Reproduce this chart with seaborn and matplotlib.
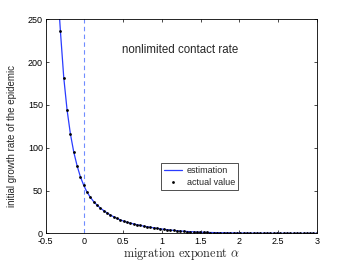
import numpy as np
import pandas as pd
import seaborn as sns
import matplotlib
matplotlib.use('Agg')
import matplotlib.pyplot as plt

# 数据
alpha = [-0.310, -0.267, -0.224, -0.181, -0.138, -0.095, -0.052, -0.009, 0.034, 0.077,
         0.120, 0.163, 0.206, 0.249, 0.292, 0.335, 0.378, 0.421, 0.464, 0.507,
         0.550, 0.593, 0.636, 0.679, 0.722, 0.765, 0.808, 0.851, 0.894, 0.937,
         0.980, 1.023, 1.066, 1.109, 1.152, 1.195, 1.238, 1.281, 1.324, 1.367,
         1.410, 1.453, 1.496, 1.539, 1.582, 1.625, 1.668, 1.711, 1.754, 1.797,
         1.840, 1.883, 1.926, 1.969, 2.012, 2.055, 2.098, 2.141, 2.184, 2.227,
         2.270, 2.313, 2.356, 2.399, 2.442, 2.485, 2.528, 2.571, 2.614, 2.657,
         2.700, 2.743, 2.786, 2.829, 2.872, 2.915, 2.958, 3.000]
actual = [236, 182, 144, 116, 95, 79, 66, 56, 48, 42,
          37, 33, 29.5, 26.5, 23.8, 21.4, 19.3, 17.4, 15.7, 14.2,
          12.9, 11.9, 10.9, 10.0, 9.2, 8.4, 7.7, 7.0, 6.4, 5.8,
          5.2, 4.7, 4.2, 3.8, 3.4, 3.0, 2.7, 2.4, 2.1, 1.9,
          1.7, 1.5, 1.35, 1.2, 1.05, 0.94, 0.85, 0.76, 0.68, 0.61,
          0.55, 0.49, 0.44, 0.40, 0.36, 0.32, 0.29, 0.26, 0.23, 0.21,
          0.19, 0.17, 0.15, 0.135, 0.12, 0.11, 0.10, 0.09, 0.08, 0.072,
          0.065, 0.058, 0.052, 0.047, 0.042, 0.038, 0.034, 0.031]
# 估计曲线 (在图顶端之外再多一点)
est_alpha = [-0.345] + alpha
est_value = [285] + actual

xticks = [-0.5, 0, 0.5, 1, 1.5, 2, 2.5, 3]
yticks = [0, 50, 100, 150, 200, 250]

sns.set_style('white')
plt.rcParams['font.family'] = ['Liberation Sans', 'DejaVu Sans']
plt.rcParams['axes.unicode_minus'] = False
plt.rcParams['mathtext.fontset'] = 'cm'

fig = plt.figure(figsize=(3.5, 2.63), dpi=100)
ax = fig.add_axes([0.1306, 0.1129, 0.905 - 0.1306, 0.9266 - 0.1129])

est_df = pd.DataFrame({'alpha': est_alpha, 'value': est_value})
act_df = pd.DataFrame({'alpha': alpha, 'value': actual})

ax.axvline(0, color='#6f8cff', lw=0.8, ls=(0, (4, 3)))
sns.lineplot(data=est_df, x='alpha', y='value', ax=ax, color='#2a3cff', lw=0.9,
             label='estimation', sort=False)
sns.scatterplot(data=act_df, x='alpha', y='value', ax=ax, color='black', s=4,
                linewidth=0, label='actual value', zorder=3)

ax.set_xlim(-0.5, 3)
ax.set_ylim(0, 250)
ax.set_xticks(xticks)
ax.set_yticks(yticks)
ax.set_xticklabels([f'{t:g}' for t in xticks])
ax.set_yticklabels([str(t) for t in yticks])
ax.tick_params(direction='in', length=2.5, width=0.5, labelsize=6.5,
               top=True, right=True, bottom=True, left=True, colors='black')
ax.tick_params(axis='x', pad=3)
ax.tick_params(axis='y', pad=2)
for sp in ax.spines.values():
    sp.set_color('black')
    sp.set_linewidth(0.6)

ax.set_xlabel(r'$\mathrm{migration\ exponent\ }\alpha$', fontsize=8.8, labelpad=0)
ax.set_ylabel('initial growth rate of the epidemic', fontsize=7, labelpad=2)
ax.yaxis.set_label_coords(-0.105, 0.455)
ax.text(0.49, 214, 'nonlimited contact rate', fontsize=8.3, va='center', ha='left')

leg = ax.legend(loc='upper left', bbox_to_anchor=(0.4255, 0.327), fontsize=6.5,
                frameon=True, fancybox=False, edgecolor='black', borderpad=0.35,
                borderaxespad=0, handlelength=2.0, handletextpad=0.5,
                labelspacing=0.25, markerscale=1.0)
leg.get_frame().set_linewidth(0.6)

fig.savefig('out.png', dpi=100)
